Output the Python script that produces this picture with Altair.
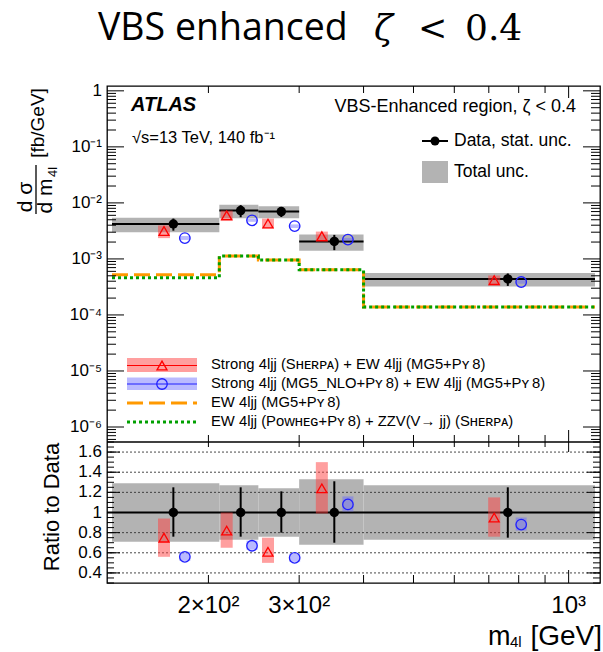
import altair as alt
import pandas as pd

# ---------------- data ----------------
bin_lo = [130, 210, 250, 300, 400]
bin_hi = [210, 250, 300, 400, 1125]
x_data = [171, 231, 277, 351, 762]
x_sherpa = [164, 217, 261, 332, 717]
x_mg5nlo = [180, 243, 294, 373, 809]

data_xs = [4.2e-3, 7.3e-3, 7.0e-3, 2.05e-3, 4.4e-4]
stat_lo = [0.76, 0.76, 0.80, 0.70, 0.75]
stat_hi = [1.25, 1.25, 1.21, 1.31, 1.25]
tot_lo = [0.71, 0.73, 0.76, 0.68, 0.73]
tot_hi = [1.29, 1.27, 1.24, 1.33, 1.27]

sherpa_ratio = [0.75, 0.82, 0.61, 1.24, 0.95]
sherpa_lo = [0.56, 0.65, 0.50, 0.99, 0.76]
sherpa_hi = [0.94, 1.00, 0.75, 1.50, 1.15]
mg5nlo_ratio = [0.56, 0.67, 0.55, 1.08, 0.88]
mg5nlo_lo = [0.52, 0.63, 0.51, 1.01, 0.82]
mg5nlo_hi = [0.61, 0.72, 0.59, 1.16, 0.95]

ew_edges = [130, 210, 250, 300, 400, 1125]
ew_mg5 = [5.2e-4, 1.13e-3, 9.6e-4, 6.4e-4, 1.39e-4, 1.39e-4]
ew_powheg = [4.6e-4, 1.13e-3, 9.6e-4, 6.4e-4, 1.39e-4, 1.39e-4]

x_domain = [130, 1125]
ytop_domain = [5.4e-7, 1.22]
ratio_domain = [0.3, 1.7]

ytop_major = [1e-6, 1e-5, 1e-4, 1e-3, 1e-2, 1e-1, 1.0]
ytop_major_labels = ["10⁻⁶", "10⁻⁵", "10⁻⁴", "10⁻³", "10⁻²", "10⁻¹", "1"]
decades = [1e-7, 1e-6, 1e-5, 1e-4, 1e-3, 1e-2, 1e-1]
multipliers = [2, 3, 4, 5, 6, 7, 8, 9]
ytop_minor = [d * m for d in decades for m in multipliers
              if ytop_domain[0] <= d * m <= ytop_domain[1]]
ratio_ticks = [0.4, 0.6, 0.8, 1.0, 1.2, 1.4, 1.6]
ratio_tick_labels = ["0.4", "0.6", "0.8", "1", "1.2", "1.4", "1.6"]
ratio_minor = [round(0.30 + 0.05 * i, 2) for i in range(29)]
x_minor = [200, 300, 400, 500, 600, 700, 800, 900]
x_major = [1000]
x_ticks = [200, 300, 1000]
x_tick_labels = ["2×10²", "3×10²", "10³"]

# ---------------- styling ----------------
FONT = "Liberation Sans"
GRAY = "#b3b3b3"
RED = "#ff0000"
BLUE = "#1f1fff"
ORANGE = "#ff9900"
GREEN = "#00a000"

W, H = 493, 497
TOP_H = 356

df = pd.DataFrame(dict(lo=bin_lo, hi=bin_hi, xd=x_data, xr=x_sherpa, xb=x_mg5nlo,
                       data=data_xs, stat_lo=stat_lo, stat_hi=stat_hi,
                       tot_lo=tot_lo, tot_hi=tot_hi,
                       r=sherpa_ratio, r_lo=sherpa_lo, r_hi=sherpa_hi,
                       b=mg5nlo_ratio, b_lo=mg5nlo_lo, b_hi=mg5nlo_hi))
df["one"] = 1.0
for c in ["stat_lo", "stat_hi", "tot_lo", "tot_hi", "r", "r_lo", "r_hi", "b", "b_lo", "b_hi"]:
    df[c + "_abs"] = df["data"] * df[c]

df_ew = pd.DataFrame(dict(edge=ew_edges, mg5=ew_mg5, powheg=ew_powheg))

xs = alt.Scale(type="log", domain=x_domain, nice=False)
ys_top = alt.Scale(type="log", domain=ytop_domain, range=[TOP_H, 0], nice=False)
ys_rat = alt.Scale(domain=ratio_domain, range=[H, TOP_H], nice=False, zero=False)


def X(f):
    return alt.X(f + ":Q", scale=xs, axis=None)


def YT(f):
    return alt.Y(f + ":Q", scale=ys_top, axis=None)


def YR(f):
    return alt.Y(f + ":Q", scale=ys_rat, axis=None)


base = alt.Chart(df)

# ---------------- top panel ----------------
t_band = base.mark_rect(color=GRAY).encode(x=X("lo"), x2="hi", y=YT("tot_lo_abs"), y2="tot_hi_abs")
t_dline = base.mark_rule(color="black", strokeWidth=2).encode(x=X("lo"), x2="hi", y=YT("data"))
t_ew1 = alt.Chart(df_ew).mark_line(interpolate="step-after", color=ORANGE, strokeWidth=3,
                                   strokeDash=[16, 6]).encode(x=X("edge"), y=YT("mg5"))
t_ew2 = alt.Chart(df_ew).mark_line(interpolate="step-after", color=GREEN, strokeWidth=3,
                                   strokeDash=[3, 3]).encode(x=X("edge"), y=YT("powheg"))
t_rband = base.mark_bar(size=12, color="#ff4040", opacity=0.5).encode(x=X("xr"), y=YT("r_lo_abs"), y2="r_hi_abs")
t_bband = base.mark_bar(size=11, color="#6666ff", opacity=0.45).encode(x=X("xb"), y=YT("b_lo_abs"), y2="b_hi_abs")
t_rpt = base.mark_point(shape="triangle-up", filled=False, color=RED, size=100, strokeWidth=1.3,
                        opacity=1).encode(x=X("xr"), y=YT("r_abs"))
t_bpt = base.mark_point(shape="circle", filled=False, color=BLUE, size=110, strokeWidth=1.3,
                        opacity=1).encode(x=X("xb"), y=YT("b_abs"))
t_err = base.mark_rule(color="black", strokeWidth=2).encode(x=X("xd"), y=YT("stat_lo_abs"), y2="stat_hi_abs")
t_pt = base.mark_circle(color="black", size=90, opacity=1).encode(x=X("xd"), y=YT("data"))


def yticks(vals, scale_fn, length, side):
    d = alt.Chart(pd.DataFrame({"v": vals})).mark_rule(color="black", strokeWidth=1)
    if side == "left":
        return d.encode(y=scale_fn("v"), x=alt.value(0), x2=alt.value(length))
    return d.encode(y=scale_fn("v"), x=alt.value(W - length), x2=alt.value(W))


def ylabels(vals, labels, scale_fn):
    return alt.Chart(pd.DataFrame({"v": vals, "lab": labels})).mark_text(
        align="right", baseline="middle", font=FONT, fontSize=17, color="black").encode(
        y=scale_fn("v"), x=alt.value(-5), text="lab:N")


def xticks(vals, y0, y1):
    return alt.Chart(pd.DataFrame({"v": vals})).mark_rule(color="black", strokeWidth=1).encode(
        x=X("v"), y=alt.value(y0), y2=alt.value(y1))


top = alt.layer(
    t_band, t_dline, t_ew1, t_ew2, t_rband, t_bband, t_rpt, t_bpt, t_err, t_pt,
    yticks(ytop_major, YT, 17, "left"), yticks(ytop_minor, YT, 9, "left"),
    yticks(ytop_major, YT, 17, "right"), yticks(ytop_minor, YT, 9, "right"),
    ylabels(ytop_major, ytop_major_labels, YT),
)

# ---------------- ratio panel ----------------
r_band = base.mark_rect(color=GRAY).encode(x=X("lo"), x2="hi", y=YR("tot_lo"), y2="tot_hi")
r_grid = alt.Chart(pd.DataFrame({"v": ratio_ticks})).mark_rule(
    color="#333333", strokeWidth=0.9, strokeDash=[2, 2]).encode(y=YR("v"))
r_one = alt.Chart(pd.DataFrame({"v": [1.0]})).mark_rule(color="black", strokeWidth=2).encode(y=YR("v"))
r_sep = alt.Chart(pd.DataFrame({"v": [ratio_domain[1]]})).mark_rule(color="black", strokeWidth=1.3).encode(y=YR("v"))
r_rband = base.mark_bar(size=12, color="#ff4040", opacity=0.5).encode(x=X("xr"), y=YR("r_lo"), y2="r_hi")
r_bband = base.mark_bar(size=11, color="#6666ff", opacity=0.45).encode(x=X("xb"), y=YR("b_lo"), y2="b_hi")
r_rpt = base.mark_point(shape="triangle-up", filled=False, color=RED, size=100, strokeWidth=1.3,
                        opacity=1).encode(x=X("xr"), y=YR("r"))
r_bpt = base.mark_point(shape="circle", filled=False, color=BLUE, size=110, strokeWidth=1.3,
                        opacity=1).encode(x=X("xb"), y=YR("b"))
r_err = base.mark_rule(color="black", strokeWidth=2).encode(x=X("xd"), y=YR("stat_lo"), y2="stat_hi")
r_pt = base.mark_circle(color="black", size=90, opacity=1).encode(x=X("xd"), y=YR("one"))

ratio = alt.layer(
    r_band, r_grid, r_one, r_sep, r_rband, r_bband, r_rpt, r_bpt, r_err, r_pt,
    yticks(ratio_ticks, YR, 13, "left"), yticks(ratio_minor, YR, 7, "left"),
    yticks(ratio_ticks, YR, 13, "right"), yticks(ratio_minor, YR, 7, "right"),
    ylabels(ratio_ticks, ratio_tick_labels, YR),
)

# x ticks on all horizontal frame lines, and x tick labels
x_lab = alt.Chart(pd.DataFrame({"v": x_ticks, "lab": x_tick_labels})).mark_text(
    align="center", baseline="alphabetic", font=FONT, fontSize=24, color="black").encode(
    x=X("v"), y=alt.value(H + 30), text="lab:N")
frame_ticks = [
    xticks(x_minor, 0, 7), xticks(x_major, 0, 12),
    xticks(x_minor, TOP_H - 7, TOP_H), xticks(x_major, TOP_H - 12, TOP_H),
    xticks(x_minor, TOP_H, TOP_H + 5), xticks(x_major, TOP_H, TOP_H + 10),
    xticks(x_minor, H - 8, H), xticks(x_major, H - 13, H),
    x_lab,
]

# ---------------- annotations ----------------
one = pd.DataFrame({"a": [0]})


def txt(s, x, y, size, font=FONT, align="left", baseline="middle", angle=0, **kw):
    props = dict(text=s, fontSize=size, font=font, align=align, baseline=baseline, color="black")
    if angle:
        props["angle"] = angle
    props.update(kw)
    return alt.Chart(one).mark_text(**props).encode(x=alt.value(x), y=alt.value(y))


def box(x0, x1, y0, y1, color, opacity=1.0):
    return alt.Chart(one).mark_rect(color=color, opacity=opacity).encode(
        x=alt.value(x0), x2=alt.value(x1), y=alt.value(y0), y2=alt.value(y1))


def hline(x0, x1, y, color, width, dash=None):
    props = dict(color=color, strokeWidth=width)
    if dash:
        props["strokeDash"] = dash
    return alt.Chart(one).mark_rule(**props).encode(x=alt.value(x0), x2=alt.value(x1), y=alt.value(y))


def sym(x, y, shape, color, size, filled):
    return alt.Chart(one).mark_point(shape=shape, color=color, size=size, filled=filled,
                                     strokeWidth=1.3, opacity=1).encode(x=alt.value(x), y=alt.value(y))


leg_x0, leg_x1, leg_xm = 20, 90, 55
annotations = [
    # page title
    txt("VBS enhanced", -9, -46, 37.5, font="Open Sans", baseline="alphabetic"),
    txt("ζ", 267, -46, 35, font="DejaVu Serif", baseline="alphabetic", fontStyle="italic"),
    txt("<", 311, -46, 35, font="DejaVu Serif", baseline="alphabetic"),
    txt("0.4", 358, -46, 36, font="DejaVu Serif", baseline="alphabetic"),
    # ATLAS label
    txt("ATLAS", 24, 19, 20, fontWeight="bold", fontStyle="italic"),
    txt("√s=13 TeV,  140 fb⁻¹", 25, 52, 16.5),
    txt("VBS-Enhanced region, ζ < 0.4", 469, 21, 18, align="right"),
    # data / total legend
    hline(315, 341, 55, "black", 2),
    sym(328, 55, "circle", "black", 80, True),
    txt("Data, stat. unc.", 347, 55, 17.5),
    box(315, 341, 75, 97, GRAY),
    txt("Total unc.", 347, 86, 17.5),
    # model legend
    box(leg_x0, leg_x1, 272, 286, "#ff4040", 0.5),
    hline(leg_x0, leg_x1, 279.5, RED, 1),
    sym(leg_xm, 279.5, "triangle-up", RED, 100, False),
    box(leg_x0, leg_x1, 291.5, 304, "#6666ff", 0.45),
    hline(leg_x0, leg_x1, 298, BLUE, 1),
    sym(leg_xm, 298, "circle", BLUE, 110, False),
    hline(leg_x0, leg_x1, 317, ORANGE, 3, [16, 6]),
    hline(leg_x0, leg_x1, 336, GREEN, 3, [3, 3]),
    txt("Strong 4ljj (Sʜᴇʀᴘᴀ) + EW 4ljj (MG5+Pʏ\u20098)", 104, 279, 14.8),
    txt("Strong 4ljj (MG5_NLO+Pʏ\u20098) + EW 4ljj (MG5+Pʏ\u20098)", 104, 297.5, 14.8),
    txt("EW 4ljj (MG5+Pʏ\u20098)", 104, 317, 14.8),
    txt("EW 4ljj (Pᴏᴡʜᴇɢ+Pʏ\u20098) + ZZV(V→ jj) (Sʜᴇʀᴘᴀ)", 104, 336, 14.8),
    # y-axis title of the top panel (rotated fraction)
    txt("[fb/GeV]", -69, 37, 19, align="center", angle=270),
    txt("d σ", -81, 111, 21, align="center", angle=270),
    alt.Chart(one).mark_rule(color="black", strokeWidth=1.3).encode(
        x=alt.value(-71), y=alt.value(79), y2=alt.value(128)),
    txt("d m", -61, 110, 21, align="center", angle=270),
    txt("4l", -54, 86, 13, align="center", angle=270),
    # ratio panel title
    txt("Ratio to Data", -55, 421, 22, align="center", angle=270),
    # x-axis title
    txt("m", 381, 559, 27, baseline="alphabetic"),
    txt("4l", 403, 561, 15, baseline="alphabetic"),
    txt("[GeV]", 495, 559, 28, align="right", baseline="alphabetic"),
]

chart = alt.layer(top, ratio, *frame_ticks, *annotations).resolve_scale(y="independent").properties(
    width=W, height=H,
    autosize=alt.AutoSizeParams(type="none"),
    padding={"left": 107, "top": 86, "right": 3, "bottom": 69},
    background="white",
).configure_view(stroke="black", strokeWidth=1.3)

chart.save("out.html", embed_options={"renderer": "svg", "actions": False})
